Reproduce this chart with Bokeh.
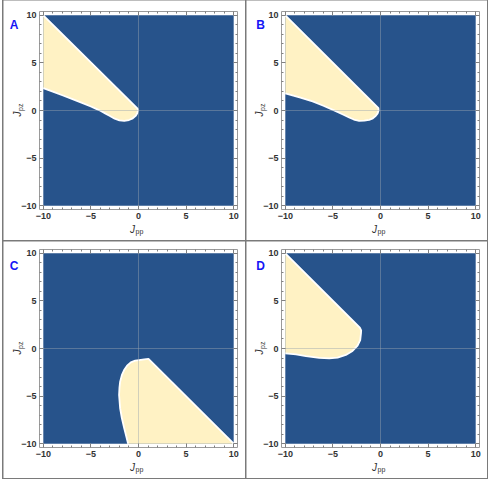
import math
from bokeh.plotting import figure
from bokeh.models import (FixedTicker, LinearAxis, Range1d, Label,
                          GlobalInlineStyleSheet)
from bokeh.layouts import row, column
from bokeh.embed import file_html
from bokeh.resources import INLINE

# ---------------- data ----------------
panel_labels = ["A", "B", "C", "D"]
major_ticks = [-10, -5, 0, 5, 10]
minor_ticks = [-9, -8, -7, -6, -4, -3, -2, -1, 1, 2, 3, 4, 6, 7, 8, 9]
tick_labels = {-10: "\u221210", -5: "\u22125", 0: "0", 5: "5", 10: "10"}
x_label_main, x_label_sub = "J", "pp"
y_label_main, y_label_sub = "J", "pz"

A_x = [-10, -0.2, -0.08, -0.05, -0.12, -0.3, -0.6, -1.0, -1.5, -2.0, -2.5, -3.0,
       -3.5, -4.0, -4.5, -5.0, -6.0, -7.0, -8.0, -9.0, -10]
A_y = [10, 0.3, 0.18, 0.02, -0.27, -0.57, -0.82, -1.0, -1.08, -1.04, -0.86, -0.58,
       -0.3, -0.03, 0.2, 0.42, 0.83, 1.22, 1.6, 1.98, 2.35]

B_x = [-10, -0.35, -0.22, -0.2, -0.3, -0.49, -0.8, -1.19, -1.7, -2.24, -2.8, -3.29,
       -4.0, -4.69, -6.0, -7.13, -8.5, -10]
B_y = [10, 0.38, 0.25, 0.0, -0.3, -0.56, -0.82, -0.98, -1.07, -1.08, -0.95, -0.74,
       -0.4, -0.06, 0.5, 0.95, 1.38, 1.79]

C_x = [-1.09, -1.5, -1.75, -1.93, -2.04, -2.0, -1.93, -1.75, -1.51, -1.2, -0.81,
       -0.35, 0.07, 0.6, 1.05, 10]
C_y = [-10, -8.39, -7.3, -6.29, -4.89, -4.1, -3.49, -2.8, -2.26, -1.8, -1.45,
       -1.28, -1.21, -1.14, -1.1, -10]

D_x = [-10, -2.17, -2.03, -2.05, -2.13, -2.41, -2.94, -3.64, -4.51, -5.38, -6.43,
       -7.83, -8.88, -10]
D_y = [10, 2.19, 1.9, 1.59, 0.89, 0.30, -0.26, -0.68, -0.96, -1.03, -0.99,
       -0.79, -0.61, -0.51]

region_x = [A_x, B_x, C_x, D_x]
region_y = [A_y, B_y, C_y, D_y]

# ---------------- style ----------------
BLUE = "#27538B"
CREAM = "#FFF2C4"
FRAME = "#9a9a9a"
TICK = "#808080"
ZERO = "#9aa4b0"
LABEL_BLUE = "#1515f5"
TXT = "#333333"
FONT = "Liberation Sans"

FRAME_PX = 198          # size of the drawn (Mathematica-style) frame in px
PAD = 0.4
LO, HI = -10 - PAD, 10 + PAD
SCALE = FRAME_PX / (HI - LO)

# figure geometry: (width, height, frame_left, frame_top) in canvas px
geom = [(242, 240, 36, 11), (241, 240, 35, 11), (242, 237, 36, 8), (241, 237, 35, 8)]
letter_pos = [(10.5, 24), (14, 24.5), (10.6, 24), (14, 24)]


def make_axis(show_labels, loc):
    ax = LinearAxis(ticker=FixedTicker(ticks=major_ticks, minor_ticks=minor_ticks),
                    fixed_location=loc, bounds=(LO, HI))
    ax.axis_line_color = FRAME
    ax.major_tick_line_color = TICK
    ax.minor_tick_line_color = TICK
    ax.major_tick_in = 4
    ax.major_tick_out = 0
    ax.minor_tick_in = 2
    ax.minor_tick_out = 0
    if show_labels:
        ax.major_label_overrides = tick_labels
        ax.major_label_text_font = FONT
        ax.major_label_text_font_size = "9px"
        ax.major_label_text_font_style = "bold"
        ax.major_label_text_color = TXT
        ax.major_label_standoff = 3
    else:
        ax.major_label_text_font_size = "0px"
        ax.major_label_text_color = None
        ax.major_label_standoff = 0
    return ax


def make_panel(i):
    w, h, fl, ft = geom[i]
    x0 = LO - fl / SCALE
    x1 = HI + (w - fl - FRAME_PX) / SCALE
    y1 = HI + ft / SCALE
    y0 = LO - (h - ft - FRAME_PX) / SCALE

    def dx(cx):
        return x0 + cx / SCALE

    def dy(cy):
        return y1 - cy / SCALE

    p = figure(width=w, height=h, x_range=Range1d(x0, x1), y_range=Range1d(y0, y1),
               output_backend="svg", toolbar_location=None,
               x_axis_location=None, y_axis_location=None, min_border=0)
    p.grid.visible = False
    p.outline_line_color = None
    p.background_fill_color = "white"
    p.border_fill_color = "white"

    # blue domain and cream region
    p.quad(left=[major_ticks[0]], right=[major_ticks[-1]], bottom=[major_ticks[0]],
           top=[major_ticks[-1]], fill_color=BLUE, line_color=None)
    p.patch(region_x[i], region_y[i], fill_color=CREAM, line_color=None)
    p.line(region_x[i], region_y[i], line_color="white", line_width=1.8)

    # faint zero axes across the plot range
    p.segment(x0=[0, LO], y0=[LO, 0], x1=[0, HI], y1=[HI, 0],
              line_color=ZERO, line_alpha=0.45, line_width=1)

    # frame with ticks (axes pinned to the frame edges)
    p.add_layout(make_axis(True, LO), "below")
    p.add_layout(make_axis(True, LO), "left")
    p.add_layout(make_axis(False, HI), "above")
    p.add_layout(make_axis(False, HI), "right")

    # panel letter
    lx, ly = letter_pos[i]
    p.add_layout(Label(x=dx(lx), y=dy(ly), text=panel_labels[i], text_color=LABEL_BLUE,
                       text_font=FONT, text_font_size="12px", text_font_style="bold",
                       text_align="center", text_baseline="middle"))

    # x label  J_pp
    cxm = fl + FRAME_PX / 2
    cym = ft + FRAME_PX + 19.5
    p.add_layout(Label(x=dx(cxm - 3.5), y=dy(cym), text=x_label_main, text_font=FONT,
                       text_font_size="10px", text_font_style="italic", text_color=TXT,
                       text_align="right", text_baseline="middle"))
    p.add_layout(Label(x=dx(cxm - 3), y=dy(cym + 2), text=x_label_sub, text_font=FONT,
                       text_font_size="7px", text_color=TXT,
                       text_align="left", text_baseline="middle"))
    # y label  J_pz (rotated)
    cyl = ft + FRAME_PX / 2
    cxl = fl - 22
    p.add_layout(Label(x=dx(cxl), y=dy(cyl + 1), text=y_label_main, text_font=FONT,
                       text_font_size="10px", text_font_style="italic", text_color=TXT,
                       angle=math.pi / 2, text_align="right", text_baseline="middle"))
    p.add_layout(Label(x=dx(cxl + 2.5), y=dy(cyl + 0.5), text=y_label_sub,
                       text_font=FONT, text_font_size="7px", text_color=TXT,
                       angle=math.pi / 2, text_align="left", text_baseline="middle"))
    return p


panels = [make_panel(i) for i in range(4)]

root = column(row(panels[0], panels[1], spacing=1),
              row(panels[2], panels[3], spacing=1),
              spacing=1,
              styles={"background-color": "#7a7a7a", "padding": "0px 1px 1px 1px"},
              stylesheets=[GlobalInlineStyleSheet(css="body { margin: 0; padding: 0 0 0 2px; }")])

open("out.html", "w").write(file_html(root, INLINE))
